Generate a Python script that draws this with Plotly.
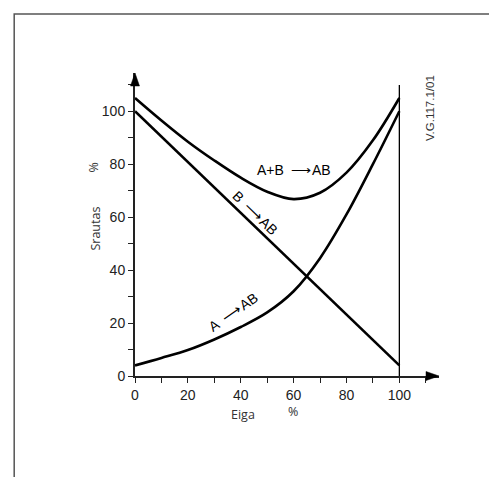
import plotly.graph_objects as go

# ---- data ----
x_pts = [0, 10, 20, 30, 40, 50, 60, 70, 80, 90, 100]
y_ab_total = [105, 96.5, 88.5, 81.4, 74.9, 69.6, 66.8, 69.2, 76.8, 89, 105]   # A+B -> AB
x_b = [0, 100]
y_b = [100, 4]                                                                # B -> AB
y_a = [4, 6.8, 9.8, 13.8, 18.5, 24, 32, 44.5, 61, 80, 100]                    # A -> AB

x_tick_vals = [0, 20, 40, 60, 80, 100]
y_tick_vals = [0, 20, 40, 60, 80, 100]

W, H = 497, 477
OFF = 8                                   # page body margin
# plot area in screen pixels (as photographed)
SX0, SX1, SY0, SY1 = 134.5, 439, 73, 376
L, R_EDGE, T, B_EDGE = SX0 - OFF, SX1 - OFF, SY0 - OFF, SY1 - OFF
XMAX = 115.0
YMAX = (SY1 - SY0) / ((SX1 - SX0) / XMAX)

def px(xs):
    return (xs - SX0) / (SX1 - SX0)

def py(ys):
    return (SY1 - ys) / (SY1 - SY0)

line_style = dict(color="black", width=2.6)

fig = go.Figure()
fig.add_trace(go.Scatter(x=x_pts, y=y_ab_total, mode="lines",
                         line=dict(shape="spline", smoothing=1.0, **line_style),
                         hoverinfo="skip"))
fig.add_trace(go.Scatter(x=x_b, y=y_b, mode="lines", line=line_style, hoverinfo="skip"))
fig.add_trace(go.Scatter(x=x_pts, y=y_a, mode="lines",
                         line=dict(shape="spline", smoothing=1.0, **line_style),
                         hoverinfo="skip"))

tickfont = dict(family="Liberation Sans, Arial, sans-serif", size=14, color="#222")
common = dict(showgrid=False, zeroline=False, showline=True, linecolor="#222", linewidth=2,
              tickmode="array", ticks="outside", ticklen=5, tickwidth=1.3, tickcolor="#222",
              minor=dict(dtick=10, tick0=0, ticks="outside", ticklen=5, tickwidth=1.3, tickcolor="#222"),
              tickfont=tickfont)
fig.update_xaxes(range=[0, XMAX], tickvals=x_tick_vals, **common)
fig.update_yaxes(range=[0, YMAX], tickvals=y_tick_vals, **common)

shapes = []
# outer frame
shapes.append(dict(type="rect", xref="paper", yref="paper",
                   x0=px(13.5), x1=px(530), y0=py(14), y1=py(530),
                   line=dict(color="#555", width=1.5), fillcolor="rgba(0,0,0,0)", layer="below"))
# arrow heads (screen pixel geometry -> paper)
shapes.append(dict(type="path", xref="paper", yref="paper",
                   path=f"M {px(SX0-4.5)} {py(SY0+13)} L {px(SX0)} {py(SY0)} L {px(SX0+4.5)} {py(SY0+13)} Z",
                   fillcolor="black", line=dict(color="black", width=0.5)))
shapes.append(dict(type="path", xref="paper", yref="paper",
                   path=f"M {px(SX1-13)} {py(SY1-4.5)} L {px(SX1)} {py(SY1)} L {px(SX1-13)} {py(SY1+4.5)} Z",
                   fillcolor="black", line=dict(color="black", width=0.5)))
# vertical line at 100 %
shapes.append(dict(type="line", xref="x", yref="paper", x0=100, x1=100, y0=0, y1=py(SY0 + 12),
                   line=dict(color="black", width=1.3)))

lab = dict(family="Liberation Sans, Arial, sans-serif", size=14, color="black")
side = dict(family="Open Sans, sans-serif", size=12.5, color="#333")
ARW = "\u2002\u27f6\u200a"
c = dict(showarrow=False, xanchor="center", yanchor="middle")
ann = [
    dict(x=60.2, y=77.7, xref="x", yref="y", text="A+B" + ARW + "AB", font=lab, **c),
    dict(x=45.5, y=61.5, xref="x", yref="y", text="B" + ARW + "AB", font=lab, textangle=44, **c),
    dict(x=37.2, y=24.2, xref="x", yref="y", text="A" + ARW + "AB", font=lab, textangle=-35, **c),
    dict(x=px(94), y=py(229), xref="paper", yref="paper", text="Srautas", textangle=-90, font=side, **c),
    dict(x=px(92), y=py(168), xref="paper", yref="paper", text="%", textangle=-90, font=side, **c),
    dict(x=px(243), y=py(414), xref="paper", yref="paper", text="Eiga", font=side, **c),
    dict(x=px(293), y=py(411), xref="paper", yref="paper", text="%", font=side, **c),
    dict(x=px(430), y=py(108), xref="paper", yref="paper", text="V.G.117.1/01", textangle=-90,
         font=dict(family="Liberation Sans, Arial, sans-serif", size=11.5, color="#333"), **c),
]

fig.update_layout(width=W, height=H, margin=dict(l=L, r=W - R_EDGE, t=T, b=H - B_EDGE, pad=0),
                  paper_bgcolor="white", plot_bgcolor="white", showlegend=False,
                  shapes=shapes, annotations=ann)

fig.write_html("out.html")
